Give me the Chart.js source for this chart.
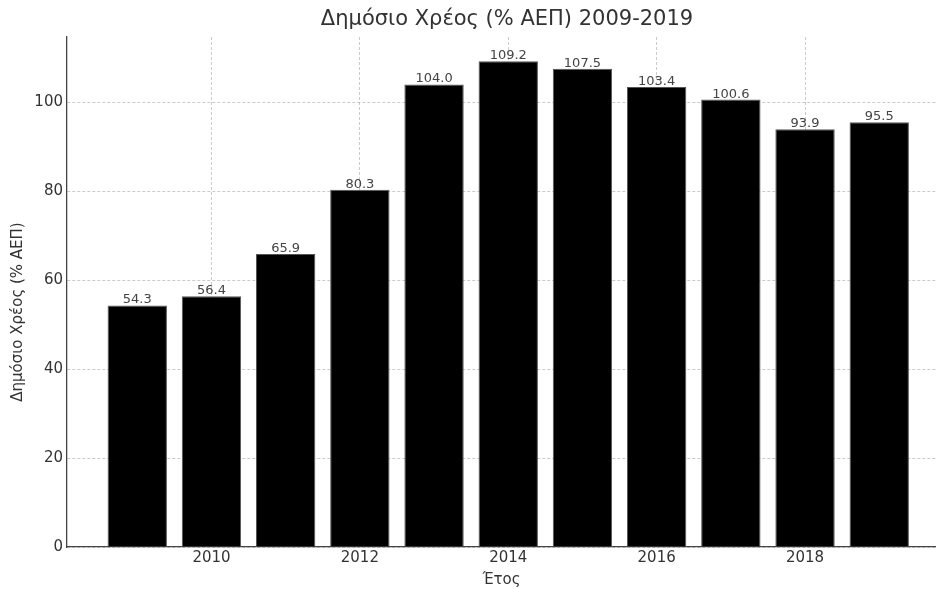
<!DOCTYPE html>
<html>
<head>
<meta charset="utf-8">
<script src="https://cdn.jsdelivr.net/npm/chart.js@4/dist/chart.umd.min.js"></script>
<style>
html,body{margin:0;padding:0;background:#fff;}
#wrap{width:936px;height:589px;}
</style>
</head>
<body>
<div id="wrap"><canvas id="c" width="936" height="589"></canvas></div>
<script>
const years = [2009, 2010, 2011, 2012, 2013, 2014, 2015, 2016, 2017, 2018, 2019];
const debt = [54.3, 56.4, 65.9, 80.3, 104.0, 109.2, 107.5, 103.4, 100.6, 93.9, 95.5];
const xTicks = [2010, 2012, 2014, 2016, 2018];
const yTicks = [0, 20, 40, 60, 80, 100];
const titleText = 'Δημόσιο Χρέος (% ΑΕΠ) 2009-2019';
const yLabel = 'Δημόσιο Χρέος (% ΑΕΠ)';
const xLabel = 'Έτος';

const FONT = "'DejaVu Sans', sans-serif";

const textPlugin = {
  id: 'texts',
  afterDatasetsDraw(chart) {
    const ctx = chart.ctx;
    const meta = chart.getDatasetMeta(0);
    ctx.save();
    ctx.fillStyle = '#444';
    ctx.font = '13px ' + FONT;
    ctx.textAlign = 'center';
    ctx.textBaseline = 'alphabetic';
    meta.data.forEach((bar, i) => {
      ctx.fillText(debt[i].toFixed(1), bar.x, bar.y - 2);
    });
    ctx.restore();
  },
  afterDraw(chart) {
    const ctx = chart.ctx;
    ctx.save();
    ctx.fillStyle = '#333';
    ctx.font = '21px ' + FONT;
    ctx.textAlign = 'center';
    ctx.textBaseline = 'middle';
    ctx.fillText(titleText, 507, 20);
    ctx.translate(18, 312);
    ctx.rotate(-Math.PI / 2);
    ctx.font = '15px ' + FONT;
    ctx.fillText(yLabel, 0, 0);
    ctx.restore();
  }
};

const gridOpts = {
  color: 'rgba(150,150,150,0.5)',
  lineWidth: 1,
  drawTicks: false,
  offset: false
};
const borderOpts = { display: true, color: '#444', width: 1.3, dash: [3, 2] };

new Chart(document.getElementById('c'), {
  type: 'bar',
  data: {
    datasets: [{
      data: years.map((y, i) => ({ x: y, y: debt[i] })),
      backgroundColor: '#000',
      borderColor: '#555',
      borderWidth: 1,
      categoryPercentage: 0.8,
      barPercentage: 1.0
    }]
  },
  options: {
    responsive: false,
    devicePixelRatio: 1,
    animation: false,
    layout: { padding: { left: 0, right: 0, top: 37, bottom: 0 } },
    plugins: { legend: { display: false }, title: { display: false }, tooltip: { enabled: false } },
    scales: {
      x: {
        type: 'linear',
        min: 2008.053,
        max: 2019.765,
        z: 1,
        offset: false,
        afterBuildTicks: s => { s.ticks = xTicks.map(v => ({ value: v })); },
        afterFit: s => { s.height = 42; },
        grid: gridOpts,
        border: borderOpts,
        ticks: {
          color: '#333',
          font: { family: FONT, size: 15 },
          padding: 2,
          maxRotation: 0,
          callback: v => String(v)
        },
        title: {
          display: true,
          text: xLabel,
          color: '#333',
          font: { family: FONT, size: 15 },
          padding: { top: 1, bottom: 0 }
        }
      },
      y: {
        min: 0,
        max: 114.66,
        z: 1,
        afterBuildTicks: s => { s.ticks = yTicks.map(v => ({ value: v })); },
        afterFit: s => { s.width = 67; },
        grid: gridOpts,
        border: borderOpts,
        ticks: {
          color: '#333',
          font: { family: FONT, size: 15 },
          padding: 4
        }
      }
    }
  },
  plugins: [textPlugin]
});
</script>
</body>
</html>
